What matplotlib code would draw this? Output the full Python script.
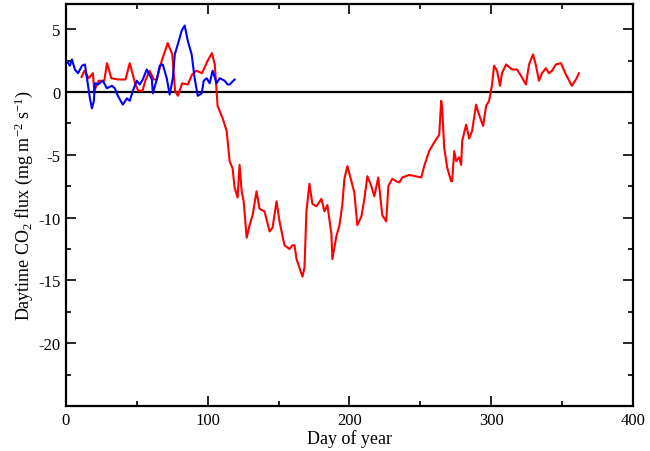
import matplotlib
matplotlib.use("Agg")
import matplotlib.pyplot as plt
from matplotlib.ticker import MultipleLocator, FixedLocator

plt.rcParams['font.family'] = ['Liberation Serif', 'DejaVu Serif']
plt.rcParams['mathtext.fontset'] = 'custom'
plt.rcParams['mathtext.rm'] = 'Liberation Serif'
plt.rcParams['mathtext.it'] = 'Liberation Serif:italic'
plt.rcParams['axes.unicode_minus'] = False

red_day = [11, 13, 16, 19, 20, 23, 27, 29, 32, 37, 42, 45, 49, 51, 54, 56, 59, 62, 64, 67.6, 71.8, 75, 77, 79, 82, 86, 89, 92, 96, 100, 103, 105,
           106.3, 107, 109.2, 110.6, 113.4, 115.5, 117.6, 119, 121.1, 122.5, 124, 125.4, 127.5, 129.6, 131.7, 134.5, 136.6, 140.1, 143.7,
           145.8, 148.6, 150.7, 154.2, 157.7, 159.9, 161.3, 162.7, 164.8, 166.9, 168.3, 169.7, 171.8, 173.9, 176.8, 180.3, 182.4, 184.5,
           187.3, 188, 190.8, 193, 195, 196.5, 198.6, 201.4, 203.5, 205.6, 208.5, 210.6, 212.7, 215.5, 217.6, 220.4, 223.2, 226, 227.5,
           230.3, 233, 235.2, 237.3, 242.3, 250.7, 252.8, 256.3, 259.9, 263.4, 264.8, 265.5, 266.9, 269, 271.8, 272.5, 274, 275.4, 277.5,
           278.9, 279.6, 282.4, 284.5, 286.6, 289.4, 291.5, 294.4, 296.5, 298.6, 300.7, 302.1, 304.2, 306.3, 307.7, 310.6, 314.8, 318.3,
           321.1, 324.6, 326.8, 329.6, 331.7, 333.8, 335.9, 338.7, 340.8, 343, 345.8, 349.3, 352.8, 357, 359.9, 362]
red_val = [1.2, 1.7, 1.1, 1.5, 0.1, 0.9, 0.9, 2.3, 1.1, 1.0, 1.0, 2.3, 0.6, 0.1, 0.1, 0.9, 1.7, 1.0, 1.0, 2.5, 3.9, 3.0, 0.1, -0.3, 0.7, 0.6, 1.4, 1.7, 1.5, 2.5, 3.1, 2.2,
           0.0, -1.1, -1.7, -2.1, -3.1, -5.5, -6.1, -7.6, -8.4, -5.8, -7.9, -8.7, -11.6, -10.6, -9.8, -7.9, -9.3, -9.5, -11.1,
           -10.8, -8.7, -10.3, -12.2, -12.5, -12.2, -12.2, -13.3, -14.0, -14.7, -14.0, -9.5, -7.3, -8.9, -9.1, -8.5, -9.5, -9.0,
           -11.3, -13.3, -11.5, -10.6, -9.0, -6.9, -5.9, -7.1, -8.0, -10.6, -9.9, -8.5, -6.7, -7.5, -8.3, -6.8, -9.8, -10.3, -7.5,
           -6.9, -7.1, -7.2, -6.8, -6.6, -6.8, -5.9, -4.7, -4.0, -3.4, -0.7, -1.3, -4.4, -6.0, -7.1, -7.1, -4.7, -5.5, -5.2,
           -5.8, -3.9, -2.6, -3.7, -3.1, -1.0, -1.8, -2.7, -1.1, -0.7, 0.6, 2.1, 1.7, 0.5, 1.5, 2.2, 1.8, 1.8,
           1.3, 0.6, 2.2, 3.0, 2.1, 0.9, 1.5, 1.9, 1.5, 1.7, 2.2, 2.3, 1.4, 0.5, 1.0, 1.5]

blue_day = [1, 2.8, 4.2, 6.3, 8.5, 11.3, 13.4, 14.8, 16.9, 18.3, 19.7, 20.4, 22.5, 26, 28.9, 32.4, 34.5, 36.6, 40.1, 43, 45, 47.2, 50,
            52.1, 54.2, 57, 60.6, 61.3, 64.1, 66.2, 68.3, 71.1, 73.2, 75.4, 76.8, 78.9, 81.7, 83.8, 85.9, 88.7, 90.8, 93, 95.8, 97.2,
            99.3, 101.4, 103.5, 106.3, 108.5, 112, 114.1, 115.5, 119]
blue_val = [2.4, 2.1, 2.6, 1.8, 1.5, 2.1, 2.2, 1.1, -0.5, -1.3, -0.7, 0.7, 0.6, 0.9, 0.3, 0.5, 0.3, -0.3, -1.0, -0.5, -0.7, 0.1, 0.9,
            0.6, 1.0, 1.8, 1.0, -0.1, 1.0, 2.1, 2.2, 1.1, -0.2, 1.1, 3.0, 3.8, 4.9, 5.3, 4.1, 3.0, 1.1, -0.3, -0.1, 0.9,
            1.1, 0.7, 1.7, 0.7, 1.1, 0.9, 0.6, 0.6, 1.0]

x_ticks = [0, 100, 200, 300, 400]
y_ticks = [5, 0, -5, -10, -15, -20]

fig = plt.figure(figsize=(6.5, 4.52), dpi=100)
ax = fig.add_axes([0.1015, 0.0996, 0.872, 0.889])

ax.axhline(0, color='black', lw=1.6, zorder=1)
ax.plot(red_day, red_val, color='#ff0000', lw=1.5, zorder=2)
ax.plot(blue_day, blue_val, color='#0000ff', lw=1.5, zorder=3)

ax.set_xlim(0, 400)
ax.set_ylim(-25, 7)
ax.xaxis.set_major_locator(FixedLocator(x_ticks))
ax.xaxis.set_minor_locator(MultipleLocator(50))
ax.yaxis.set_major_locator(FixedLocator(y_ticks))
ax.yaxis.set_minor_locator(MultipleLocator(2.5))

ax.tick_params(which='both', direction='in', top=True, right=True, width=1.2, labelsize=12, pad=4)
ax.tick_params(which='major', length=7)
ax.tick_params(which='minor', length=3.5)
for s in ax.spines.values():
    s.set_linewidth(1.6)

ax.set_xlabel('Day of year', fontsize=13, labelpad=1)
ax.set_ylabel('Daytime CO$_2$ flux (mg m$^{-2}$ s$^{-1}$)', fontsize=13, labelpad=2)

fig.savefig('out.png', dpi=100)
